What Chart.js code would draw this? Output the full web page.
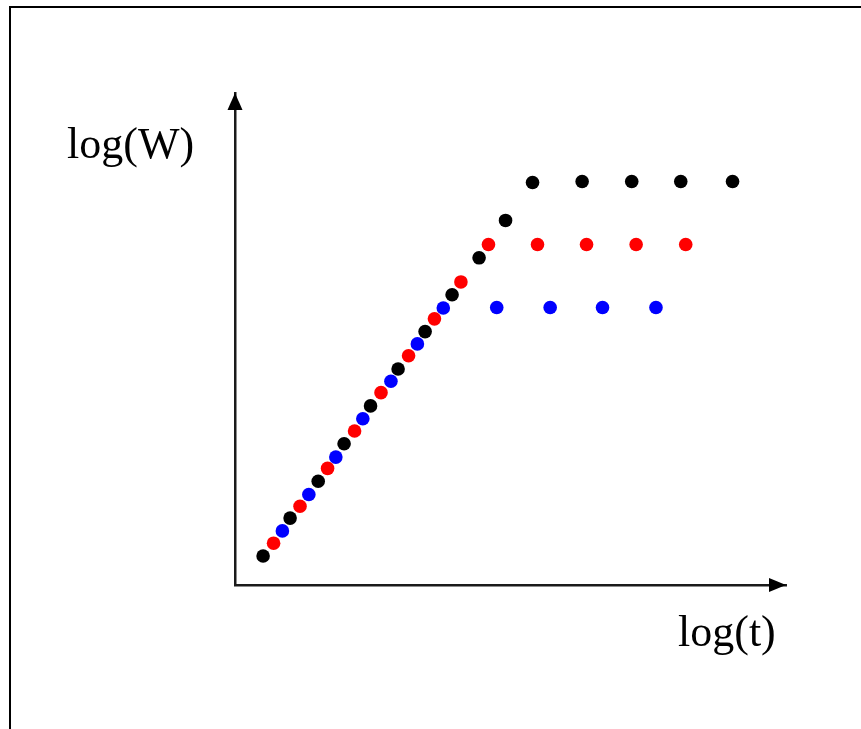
<!DOCTYPE html>
<html lang="en">
<head>
  <meta charset="UTF-8" />
  <title>log(W) vs log(t)</title>
  <style>
    html, body {
      margin: 0;
      padding: 0;
      background-color: #fff;
      overflow: hidden;
    }
    #wrap {
      position: relative;
      width: 861px;
      height: 729px;
    }
    #frame {
      position: absolute;
      left: 9px;
      top: 6px;
      right: 0;
      bottom: 0;
      border-top: 2.5px solid #000;
      border-left: 2.5px solid #000;
      pointer-events: none;
    }
    canvas {
      position: absolute;
      left: 0;
      top: 0;
    }
  </style>
</head>
<body>
  <div id="wrap">
    <canvas id="growthChart" width="861" height="729"></canvas>
    <div id="frame"></div>
  </div>

  <script src="https://cdn.jsdelivr.net/npm/chart.js"></script>
  <script>
    // axis titles
    const xLabel = 'log(t)';
    const yLabel = 'log(W)';

    // black series: rise then highest plateau
    const blackX = [0.51, 1.00, 1.51, 1.98, 2.46, 2.96, 3.45, 3.94, 4.43, 4.91, 5.40, 6.30, 7.20, 8.09, 9.03];
    const blackY = [0.59, 1.36, 2.11, 2.87, 3.64, 4.39, 5.15, 5.90, 6.65, 7.41, 8.18, 8.20, 8.20, 8.20, 8.20];

    // red series
    const redX = [0.70, 1.18, 1.68, 2.17, 2.65, 3.15, 3.62, 4.10, 4.60, 5.49, 6.38, 7.28, 8.18];
    const redY = [0.85, 1.60, 2.37, 3.13, 3.91, 4.66, 5.41, 6.16, 6.92, 6.92, 6.92, 6.92, 6.92];

    // blue series (blue dots with a small red centre)
    const blueX = [0.86, 1.34, 1.83, 2.32, 2.83, 3.31, 3.78, 4.75, 5.72, 6.67, 7.64];
    const blueY = [1.10, 1.84, 2.60, 3.38, 4.14, 4.90, 5.63, 5.64, 5.64, 5.64, 5.64];

    const toPoints = (xs, ys) => xs.map((x, i) => ({ x: x, y: ys[i] }));

    const dot = (color, r) => ({
      showLine: false,
      pointRadius: r,
      pointHoverRadius: r,
      pointBackgroundColor: color,
      pointBorderWidth: 0,
      borderColor: color
    });

    // arrows at the axis ends + the two axis labels
    const arrowsAndLabels = {
      id: 'arrowsAndLabels',
      afterDraw(chart) {
        const { ctx, chartArea: a } = chart;
        ctx.save();
        ctx.fillStyle = '#000';

        // up arrow
        ctx.beginPath();
        ctx.moveTo(a.left, a.top);
        ctx.lineTo(a.left - 7.5, a.top + 17);
        ctx.lineTo(a.left + 7.5, a.top + 17);
        ctx.closePath();
        ctx.fill();

        // right arrow
        ctx.beginPath();
        ctx.moveTo(a.right, a.bottom);
        ctx.lineTo(a.right - 17, a.bottom - 7);
        ctx.lineTo(a.right - 17, a.bottom + 7);
        ctx.closePath();
        ctx.fill();

        ctx.font = '44px "Liberation Serif", "Times New Roman", serif';
        ctx.textBaseline = 'alphabetic';
        ctx.textAlign = 'left';
        ctx.fillText(yLabel, 67, 158);
        ctx.fillText(xLabel, 678, 646);
        ctx.restore();
      }
    };

    const ctx = document.getElementById('growthChart').getContext('2d');

    new Chart(ctx, {
      type: 'scatter',
      data: {
        datasets: [
          { label: 'black', data: toPoints(blackX, blackY), ...dot('#000', 6.8) },
          { label: 'red', data: toPoints(redX, redY), ...dot('#ff0000', 6.8) },
          { label: 'blue', data: toPoints(blueX, blueY), ...dot('#0000ff', 6.8) },
          { label: 'blue centre', data: toPoints(blueX, blueY), ...dot('#ff0000', 1.7) }
        ]
      },
      options: {
        responsive: false,
        animation: false,
        events: [],
        layout: {
          padding: { left: 235, right: 75, top: 93, bottom: 144 }
        },
        plugins: {
          legend: { display: false },
          tooltip: { enabled: false },
          title: { display: false }
        },
        scales: {
          x: {
            type: 'linear',
            min: 0,
            max: 10,
            grid: { display: false, drawTicks: false },
            ticks: { display: false },
            border: { display: true, color: '#1a1a1a', width: 2.5 }
          },
          y: {
            type: 'linear',
            min: 0,
            max: 10,
            grid: { display: false, drawTicks: false },
            ticks: { display: false },
            border: { display: true, color: '#1a1a1a', width: 2.5 }
          }
        }
      },
      plugins: [arrowsAndLabels]
    });
  </script>
</body>
</html>
